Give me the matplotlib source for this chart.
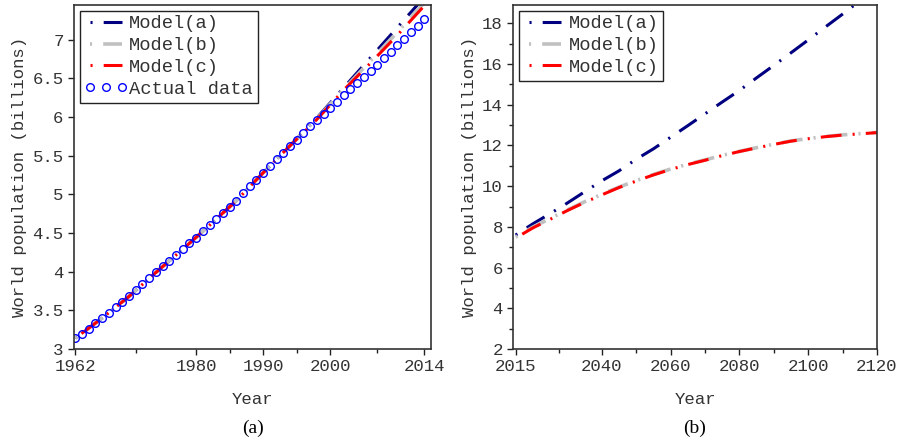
# -*- coding: utf-8 -*-

import numpy as np
import matplotlib as mpl
mpl.use('Agg')
import matplotlib.pyplot as plt
from matplotlib.lines import Line2D
from matplotlib.ticker import FormatStrFormatter

mpl.rcParams['font.family'] = ['Liberation Mono', 'DejaVu Sans Mono']
mpl.rcParams['font.size'] = 12.5
mpl.rcParams['lines.scale_dashes'] = False

# ---- panel (a): 1962-2014 ----
years_actual = list(range(1962, 2015))
pop_actual = [3.14, 3.19, 3.26, 3.33, 3.40, 3.47, 3.54, 3.61, 3.68, 3.76,
              3.84, 3.92, 3.99, 4.07, 4.14, 4.21, 4.29, 4.37, 4.44, 4.52,
              4.60, 4.68, 4.76, 4.84, 4.92, 5.02, 5.11, 5.19, 5.28, 5.37,
              5.46, 5.54, 5.63, 5.71, 5.80, 5.88, 5.96, 6.04, 6.12, 6.20,
              6.28, 6.36, 6.44, 6.52, 6.60, 6.68, 6.76, 6.84, 6.93, 7.01,
              7.10, 7.18, 7.27]

years_fit = [1962, 1966, 1970, 1974, 1978, 1982, 1986, 1990, 1994, 1998,
             2002, 2006, 2010, 2014, 2016]
fit_a = [3.14, 3.40, 3.68, 3.99, 4.29, 4.60, 4.92, 5.28, 5.63, 5.99,
         6.38, 6.77, 7.16, 7.55, 7.76]
fit_b = [3.14, 3.40, 3.68, 3.99, 4.29, 4.60, 4.92, 5.28, 5.63, 5.98,
         6.36, 6.73, 7.10, 7.48, 7.68]
fit_c = [3.14, 3.40, 3.68, 3.99, 4.29, 4.60, 4.92, 5.28, 5.63, 5.97,
         6.35, 6.70, 7.06, 7.44, 7.64]

# ---- panel (b): 2015-2120 ----
years_proj = list(range(2015, 2121, 5))
proj_a = [7.60, 8.15, 8.65, 9.17, 9.72, 10.26, 10.75, 11.32, 11.83, 12.40,
          12.97, 13.55, 14.13, 14.70, 15.32, 15.93, 16.55, 17.18, 17.82,
          18.45, 19.10, 19.75]
proj_b = [7.50, 7.99, 8.41, 8.83, 9.23, 9.60, 9.95, 10.27, 10.57, 10.84,
          11.08, 11.29, 11.51, 11.71, 11.89, 12.06, 12.22, 12.34, 12.44,
          12.52, 12.58, 12.64]
proj_c = [7.45, 7.95, 8.37, 8.80, 9.20, 9.57, 9.93, 10.25, 10.55, 10.82,
          11.06, 11.27, 11.50, 11.70, 11.88, 12.05, 12.21, 12.33, 12.43,
          12.51, 12.57, 12.63]

labels = ['Model(a)', 'Model(b)', 'Model(c)']
colors = ['#000080', '#c0c0c0', '#ff0000']
widths = [2.2, 2.6, 2.2]

dashdot = (0, (1.5, 8, 15, 8))
dashdot_c = (4, (1.5, 8, 15, 8))


def style_axes(ax):
    for s in ax.spines.values():
        s.set_color('#333333')
        s.set_linewidth(1.2)
    ax.tick_params(which='both', direction='out', top=False, right=False,
                   colors='#222222', labelcolor='#333333')
    ax.tick_params(which='major', length=4, width=1)
    ax.tick_params(which='minor', length=3, width=1)
    ax.set_xlabel('Year', color='#333333', labelpad=13)
    ax.set_ylabel('World population (billions)', color='#333333', labelpad=4)


def add_legend(ax, with_data=False):
    # proxies so every entry starts with the dot, as in the original
    handles = [Line2D([], [], color=c, lw=w, linestyle=dashdot)
               for c, w in zip(colors, widths)]
    names = list(labels)
    if with_data:
        handles.append(Line2D([], [], ls='none', marker='o', mfc='none',
                              mec='#0000ff', ms=5.5, mew=1))
        names.append('Actual data')
    leg = ax.legend(handles, names, loc='upper left', numpoints=3, fontsize=13.5,
                    handlelength=2.3, handletextpad=0.1,
                    labelspacing=0.25, borderpad=0.25, borderaxespad=0.3,
                    fancybox=False, framealpha=1, edgecolor='#222222')
    leg.get_frame().set_linewidth(1)
    for t in leg.get_texts():
        t.set_color('#333333')


def main():
    fig = plt.figure(figsize=(9, 4.42), dpi=100)
    ax1 = fig.add_axes([0.0822, 0.2104, 0.397, 0.7783])
    ax2 = fig.add_axes([0.5703, 0.2104, 0.4041, 0.7783])

    # (a)
    ax1.plot(years_fit, fit_a, color=colors[0], lw=widths[0], linestyle=dashdot)
    ax1.plot(years_fit, fit_b, color=colors[1], lw=widths[1], linestyle=dashdot)
    ax1.plot(years_fit, fit_c, color=colors[2], lw=widths[2], linestyle=dashdot_c)
    ax1.plot(years_actual, pop_actual, 'o', mfc='none', mec='#0000ff', ms=5.5, mew=1)
    ax1.set_xlim(1961.8, 2015.05)
    ax1.set_ylim(3, 7.45)
    ax1.set_xticks([1962, 1980, 1990, 2000, 2014])
    ax1.set_xticks([1971, 1985, 1995, 2007], minor=True)
    ax1.set_yticks(np.arange(3, 7.01, 0.5))
    ax1.yaxis.set_major_formatter(FormatStrFormatter('%g'))
    style_axes(ax1)
    add_legend(ax1, with_data=True)

    # (b)
    ax2.plot(years_proj, proj_a, color=colors[0], lw=widths[0], linestyle=dashdot)
    ax2.plot(years_proj, proj_b, color=colors[1], lw=widths[1], linestyle=dashdot)
    ax2.plot(years_proj, proj_c, color=colors[2], lw=widths[2], linestyle=dashdot_c)
    ax2.set_xlim(2014.3, 2120)
    ax2.set_ylim(2, 18.9)
    ax2.set_xticks([2015, 2040, 2060, 2080, 2100, 2120])
    ax2.set_xticks([2027.5, 2050, 2070, 2090, 2110], minor=True)
    ax2.set_yticks(np.arange(2, 19, 2))
    ax2.set_yticks(np.arange(3, 19, 2), minor=True)
    style_axes(ax2)
    add_legend(ax2)

    fig.text(0.2806, 0.032, '(a)', ha='center', va='center',
             family='Liberation Serif', fontsize=14)
    fig.text(0.7722, 0.032, '(b)', ha='center', va='center',
             family='Liberation Serif', fontsize=14)

    fig.savefig('out.png', dpi=100)


if __name__ == '__main__':
    main()
